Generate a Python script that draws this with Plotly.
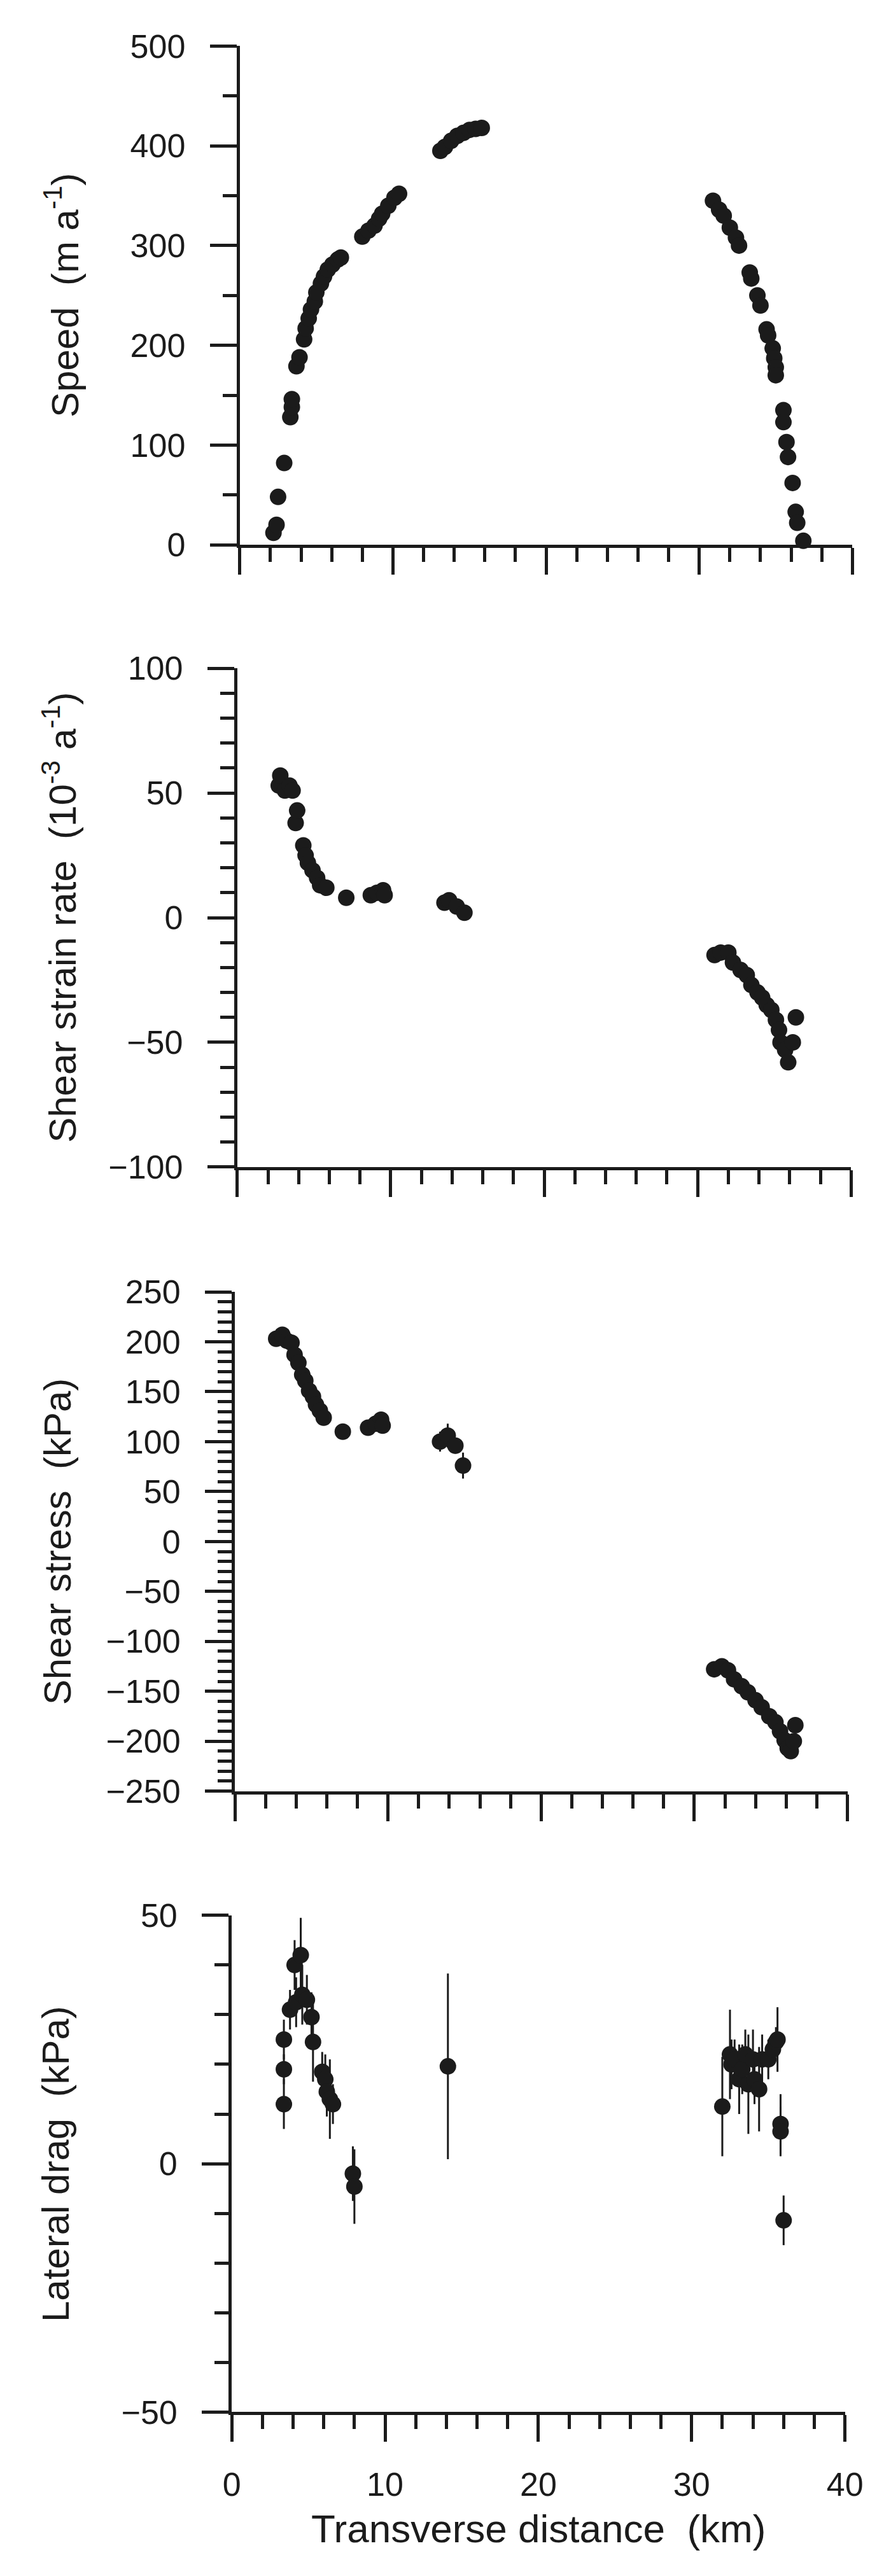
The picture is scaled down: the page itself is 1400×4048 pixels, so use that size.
import plotly.graph_objects as go

# ---- data ----
speed_x = [2.2, 2.4, 2.5, 2.9, 3.3, 3.4, 3.4, 3.7, 3.9, 4.2, 4.3, 4.5, 4.65, 4.9, 5.0, 5.3, 5.5, 5.75, 6.05, 6.4, 6.6,
           8.0, 8.4, 8.8, 9.1, 9.3, 9.7, 10.1, 10.4, 13.1, 13.4, 13.8, 14.2, 14.6, 15.0, 15.4, 15.8,
           30.9, 31.3, 31.6, 32.0, 32.4, 32.6, 33.3, 33.4, 33.8, 34.0, 34.4, 34.5, 34.8, 34.9, 35.0, 35.0,
           35.5, 35.5, 35.7, 35.8, 36.1, 36.3, 36.4, 36.8]
speed = [12, 20, 48, 82, 128, 138, 146, 179, 188, 206, 217, 227, 236, 244, 253, 262, 269, 276, 281, 286, 288,
         309, 315, 320, 327, 332, 340, 348, 352, 395, 399, 405, 410, 413, 416, 417, 418,
         345, 336, 330, 318, 308, 300, 273, 267, 250, 240, 216, 210, 197, 187, 178, 170,
         135, 123, 103, 88, 62, 33, 22, 4]

rate_x = [2.7, 2.8, 3.1, 3.4, 3.6, 3.8, 3.9, 4.3, 4.45, 4.6, 4.9, 5.2, 5.4, 5.8, 7.1, 8.7, 9.1, 9.5, 9.6,
          13.5, 13.8, 14.3, 14.8,
          31.1, 31.5, 32.0, 32.3, 32.8, 33.2, 33.5, 33.9, 34.2, 34.5, 34.8, 35.1, 35.3, 35.4, 35.7, 35.9, 36.2, 36.4]
rate = [53, 57, 51, 53, 51, 38, 43, 29, 25, 22, 19, 16, 13, 12, 8, 9, 10, 11, 9,
        6, 7, 4.5, 2,
        -15, -14, -14, -18, -21, -23, -27, -30, -32, -35, -37, -41, -45, -50, -53, -58, -50, -40]

stress_x = [2.7, 3.1, 3.4, 3.7, 3.9, 4.15, 4.4, 4.6, 4.85, 5.1, 5.3, 5.55, 5.8, 7.05, 8.7, 9.2, 9.55, 9.65,
            13.4, 13.9, 14.4, 14.9,
            31.3, 31.8, 32.2, 32.6, 33.1, 33.5, 34.0, 34.4, 34.9, 35.3, 35.6, 35.9, 36.1, 36.3, 36.5, 36.6]
stress = [203, 207, 201, 199, 187, 179, 167, 161, 151, 145, 137, 131, 124, 110, 114, 118, 122, 116,
          100, 106, 96, 76,
          -128, -125, -129, -138, -145, -151, -159, -166, -175, -181, -190, -199, -207, -210, -200, -184]
stress_err = [4, 4, 4, 4, 4, 4, 4, 4, 4, 4, 4, 4, 4, 5, 5, 5, 5, 5,
              10, 12, 8, 13,
              4, 4, 4, 4, 4, 4, 4, 4, 4, 4, 4, 4, 4, 4, 4, 4]

drag_x = [3.4, 3.4, 3.4, 3.8, 4.1, 4.2, 4.5, 4.6, 4.9, 5.2, 5.3, 5.9, 6.1, 6.2, 6.4, 6.6, 7.9, 8.0, 14.1,
          32.0, 32.5, 32.6, 32.8, 33.1, 33.3, 33.5, 33.7, 34.0, 34.1, 34.4, 34.6, 35.0, 35.3, 35.5, 35.6,
          35.8, 35.8, 36.0]
drag = [25, 19, 12, 31, 40, 32.5, 42, 34, 33, 29.5, 24.5, 18.5, 17, 14.5, 13, 12, -2, -4.6, 19.6,
        11.5, 22, 20, 21, 17, 19, 22, 16, 21, 17, 15, 21, 21, 23, 24.5, 25,
        8, 6.5, -11.4]
drag_err = [4, 3, 5, 4, 5, 5, 7.5, 6, 5, 5, 8, 4, 5, 5, 8, 4, 5.5, 7.5, 18.7,
            10, 9, 5, 4, 7, 5, 5, 10, 6, 5, 8.5, 5, 4, 3, 3, 6.5,
            6, 5, 5]

x_ticks = [0, 10, 20, 30, 40]

W, H = 1400, 4048
INK = "#1b1b1b"
FONT = "Liberation Sans, Arial, Helvetica, sans-serif"

# panel boxes in pixels: (left, right, top, bottom)
boxes = [(366, 1359, 36, 831),
         (362, 1357, 1028, 1823),
         (358, 1351, 2022, 2818),
         (353, 1347, 3016, 3808)]

panels = [
    dict(x=speed_x, y=speed, err=None, rng=[0, 500], dt=100, mdt=50,
         title="Speed\u00a0\u00a0(m a<sup>-1</sup>)", tx=78),
    dict(x=rate_x, y=rate, err=None, rng=[-100, 100], dt=50, mdt=10,
         title="Shear strain rate\u00a0\u00a0(10<sup>-3</sup> a<sup>-1</sup>)", tx=74),
    dict(x=stress_x, y=stress, err=stress_err, rng=[-250, 250], dt=50, mdt=10,
         title="Shear stress\u00a0\u00a0(kPa)", tx=71),
    dict(x=drag_x, y=drag, err=drag_err, rng=[-50, 50], dt=50, mdt=10,
         title="Lateral drag\u00a0\u00a0(kPa)", tx=67),
]

fig = go.Figure()
layout = {}
annotations = []

for i, (p, b) in enumerate(zip(panels, boxes), start=1):
    sfx = "" if i == 1 else str(i)
    left, right, top, bottom = b
    err = None
    if p["err"] is not None:
        err = dict(type="data", array=p["err"], color=INK, thickness=3, width=0)
    fig.add_trace(go.Scatter(
        x=p["x"], y=p["y"], mode="markers",
        marker=dict(size=26, color=INK, line=dict(width=0)),
        error_y=err, cliponaxis=False, showlegend=False,
        xaxis="x" + sfx, yaxis="y" + sfx,
    ))
    layout["xaxis" + sfx] = dict(
        domain=[left / W, right / W], anchor="y" + sfx, range=[0, 40],
        tickmode="array", tickvals=x_ticks, showticklabels=(i == 4),
        ticks="outside", ticklen=42, tickwidth=4.5, tickcolor=INK,
        minor=dict(dtick=2, tick0=0, ticks="outside", ticklen=22, tickwidth=4.5, tickcolor=INK),
        showline=True, linewidth=5, linecolor=INK, showgrid=False, zeroline=False,
        tickfont=dict(size=52, color=INK, family=FONT), ticklabelstandoff=22,
    )
    layout["yaxis" + sfx] = dict(
        domain=[1 - bottom / H, 1 - top / H], anchor="x" + sfx, range=p["rng"],
        dtick=p["dt"], tick0=0,
        ticks="outside", ticklen=42, tickwidth=4.5, tickcolor=INK,
        minor=dict(dtick=p["mdt"], tick0=0, ticks="outside", ticklen=22, tickwidth=4.5, tickcolor=INK),
        showline=True, linewidth=5, linecolor=INK, showgrid=False, zeroline=False,
        tickfont=dict(size=52, color=INK, family=FONT), ticklabelstandoff=28,
    )
    annotations.append(dict(
        text=p["title"], textangle=-90, xref="paper", yref="paper",
        x=p["tx"] / W, y=1 - (top + bottom) / 2 / H, xanchor="center", yanchor="middle",
        showarrow=False, font=dict(size=60, color=INK, family=FONT),
    ))

annotations.append(dict(
    text="Transverse distance\u00a0\u00a0(km)", xref="paper", yref="paper",
    x=850 / W, y=1 - 3994 / H, xanchor="center", yanchor="middle",
    showarrow=False, font=dict(size=62, color=INK, family=FONT),
))

fig.update_layout(
    width=W, height=H,
    margin=dict(l=0, r=0, t=0, b=0),
    paper_bgcolor="white", plot_bgcolor="white",
    annotations=annotations,
    **layout,
)

fig.write_html("out.html")
